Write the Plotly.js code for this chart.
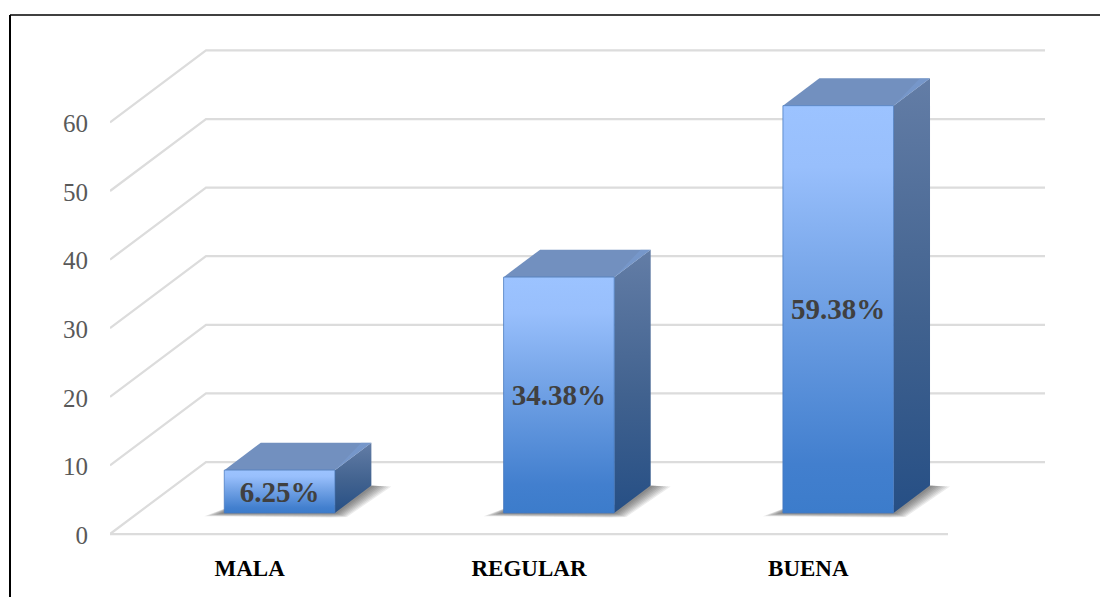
<!DOCTYPE html>
<html>
<head>
<meta charset="utf-8">
<script src="https://cdn.plot.ly/plotly-3.0.1.min.js"></script>
<style>html,body{margin:0;padding:0;background:#fff;overflow:hidden}#chart{width:1100px;height:597px}</style>
</head>
<body>
<div id="chart"></div>
<script>
// Data
const categories = ['MALA', 'REGULAR', 'BUENA'];
const values = [6.25, 34.38, 59.38];
const tickValues = [0, 10, 20, 30, 40, 50, 60];

// Pixel frame: B is the pixel row of value 0, PB the bottom of the plot area
const W = 1100, H = 597, L = 110, R = 1045, B = 534, PB = 540, T = 20;
const perCat = 279.33, perVal = 6.86;
const xmin = -0.5, xmax = xmin + (R - L) / perCat;
const ymin = -(PB - B) / perVal, ymax = (B - T) / perVal;
const wallDx = 96 / perCat, wallDy = 72 / perVal;     // depth of the floor/back wall
const barShift = 0.107, barW = 0.396;                 // bar placement in category units
const baseLift = 21 / perVal;                         // bar base above front of floor
const depthDx = 36.5 / perCat, depthDy = 27.5 / perVal; // bar depth

const FONT = '"Liberation Serif", serif';
const traces = [];

// Back wall and side wall grid
const gx = [], gy = [];
tickValues.forEach(v => {
  gx.push(xmin, xmin + wallDx, xmax, null);
  gy.push(v, v + wallDy, v + wallDy, null);
});
traces.push({type:'scatter', mode:'lines', x:gx, y:gy, hoverinfo:'skip', showlegend:false, cliponaxis:false,
  line:{color:'#dcdcdc', width:2.25}});
// Front edge of the floor
traces.push({type:'scatter', mode:'lines', x:[xmin, xmin + 838 / perCat], y:[0, 0], hoverinfo:'skip', showlegend:false, cliponaxis:false,
  line:{color:'#dcdcdc', width:2.25}});

function face(xs, ys, opts) {
  traces.push(Object.assign({type:'scatter', mode:'lines', x:xs.concat(xs[0]), y:ys.concat(ys[0]),
    fill:'toself', line:{width:0, color:'rgba(0,0,0,0)'}, hoverinfo:'skip', showlegend:false}, opts));
}

categories.forEach((c, i) => {
  const x0 = i + barShift - barW / 2, x1 = i + barShift + barW / 2;
  const b = baseLift, t = baseLift + values[i];
  const dx = depthDx, dy = depthDy;
  const px = 1 / perCat, py = 1 / perVal;

  // soft contact shadow, nested layers growing from the bar footprint outward
  [1, 0.88, 0.76, 0.64, 0.52, 0.4, 0.28, 0.16].forEach(k => {
    face(
      [x0 - 20 * k * px, x0 + 10 * px, x1, x1 + dx - 4 * px, x1 + dx + 20 * k * px, x1 + 12 * k * px, x1 - 4 * px],
      [b - 0.2 * py - 3 * k * py, b + 8 * py, b + 8 * py, b + dy, b + dy - 1 * k * py, b - 4 * k * py, b - 4.5 * k * py],
      {fillcolor:'rgba(40,40,40,0.085)'});
  });

  // side face
  face([x1, x1 + dx, x1 + dx, x1], [b, b + dy, t + dy, t], {
    fillcolor:'#4a6a98',
    fillgradient:{type:'vertical', start:b, stop:t + dy,
      colorscale:[[0,'#264f85'],[0.45,'#41628f'],[1,'#637da6']]}
  });
  // top face
  face([x0, x1, x1 + dx, x0 + dx], [t, t, t + dy, t + dy], {fillcolor:'#7290bf'});
  // bevel along the top-right edge
  face([x1, x1 + dx, x1 + dx - 10 * px], [t, t + dy, t + dy], {fillcolor:'rgba(125,160,215,0.45)'});
  // front face gradient
  face([x0, x1, x1, x0], [b, b, t, t], {
    fillcolor:'#6a9ee6',
    fillgradient:{type:'vertical', start:b, stop:t,
      colorscale:[[0,'#3c7ccb'],[0.12,'#427fce'],[0.6,'#7aa8ea'],[0.85,'#98bffc'],[1,'#9cc3ff']]}
  });
});

// The bars themselves, above the faces: outline and value labels
traces.push({
  type:'bar', x:categories.map((c, i) => i + barShift), y:values,
  base:categories.map(() => baseLift), width:barW, yaxis:'y2',
  marker:{color:'rgba(0,0,0,0)', line:{color:'rgba(70,120,190,0.75)', width:1}},
  text:values.map(v => v.toFixed(2) + '%'), textposition:'inside', insidetextanchor:'middle',
  textangle:0, constraintext:'none', cliponaxis:false,
  insidetextfont:{family:FONT, size:29, color:'#404040', weight:700},
  hoverinfo:'skip', showlegend:false
});

const frameX = (10 - L) / (R - L), frameR = (W - L) / (R - L);
const frameTop = (PB - 15) / (PB - T), frameBottom = (PB - H) / (PB - T);
const layout = {
  width:W, height:H, showlegend:false, paper_bgcolor:'#fff', plot_bgcolor:'rgba(0,0,0,0)',
  margin:{l:L, r:W - R, t:T, b:H - PB, pad:0},
  xaxis:{range:[xmin, xmax], tickmode:'array', tickvals:categories.map((c, i) => i), ticktext:categories,
    showgrid:false, zeroline:false, showline:false, ticks:'outside', ticklen:7, tickcolor:'rgba(0,0,0,0)',
    tickfont:{family:FONT, size:23, color:'#000', weight:700}, fixedrange:true},
  yaxis:{range:[ymin, ymax], tickmode:'array', tickvals:tickValues, ticktext:tickValues.map(String),
    showgrid:false, zeroline:false, showline:false, ticks:'outside', ticklen:16, tickcolor:'rgba(0,0,0,0)',
    ticklabelshift:1,
    tickfont:{family:FONT, size:25, color:'#595959'}, fixedrange:true},
  yaxis2:{range:[ymin, ymax], overlaying:'y', visible:false, fixedrange:true},
  shapes:[
    {type:'line', xref:'paper', yref:'paper', layer:'above',
      x0:frameX, x1:frameR, y0:frameTop, y1:frameTop, line:{color:'#000', width:1.5}},
    {type:'line', xref:'paper', yref:'paper', layer:'above',
      x0:frameX, x1:frameX, y0:frameTop, y1:frameBottom, line:{color:'#000', width:2}}
  ]
};
Plotly.newPlot('chart', traces, layout, {displayModeBar:false, staticPlot:true});
</script>
</body>
</html>
